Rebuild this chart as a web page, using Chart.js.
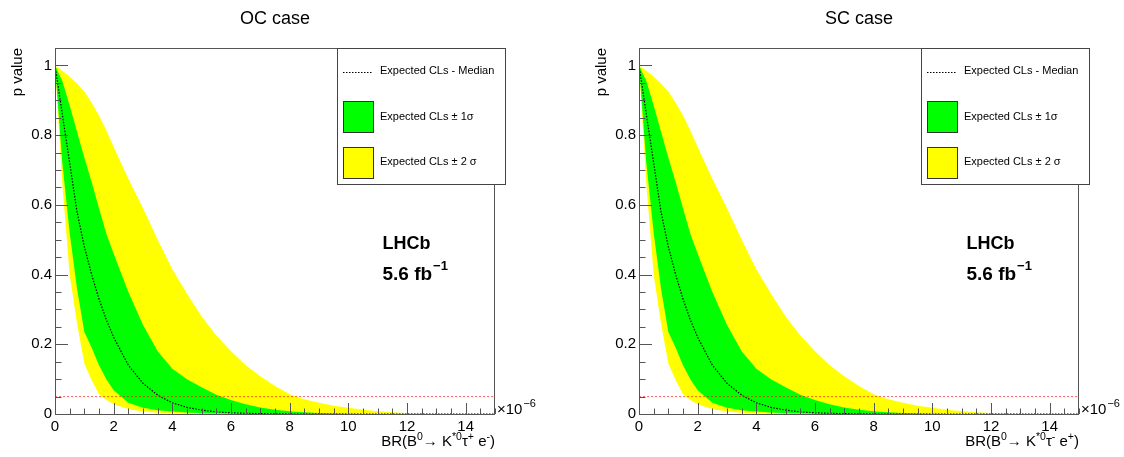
<!DOCTYPE html>
<html>
<head>
<meta charset="utf-8">
<script src="https://cdn.jsdelivr.net/npm/chart.js@4.4.1/dist/chart.umd.min.js"></script>
<style>
  html, body { margin: 0; padding: 0; background: #fff; overflow: hidden; width: 1124px; height: 457px; }
  canvas { position: absolute; top: 0; }
  #ocChart { left: 0; }
  #scChart { left: 584px; }
</style>
</head>
<body>
<canvas id="ocChart" width="562" height="457"></canvas>
<canvas id="scChart" width="562" height="457"></canvas>
<script>
// branching fraction scan points (x 10^-6)
const brValues    = [0, 0.25, 0.5, 0.75, 1, 1.25, 1.5, 1.75, 2, 2.5, 3, 3.5, 4, 4.5, 5, 5.5, 6, 6.5, 7, 7.5, 8, 8.5, 9, 9.5, 10, 10.5, 11, 11.5, 12, 12.5, 13, 13.5, 14, 14.5, 15];
// expected CLs bands
const yellowUpper = [1, 0.985, 0.968, 0.948, 0.925, 0.893, 0.856, 0.813, 0.766, 0.675, 0.59, 0.50, 0.415, 0.345, 0.28, 0.225, 0.18, 0.14, 0.108, 0.08, 0.057, 0.042, 0.032, 0.024, 0.018, 0.012, 0.008, 0.005, 0.003, 0.0015, 0.0007, 0.0003, 0.0001, 0, 0];
const greenUpper  = [1, 0.955, 0.885, 0.81, 0.735, 0.665, 0.59, 0.517, 0.46, 0.35, 0.255, 0.18, 0.13, 0.1, 0.077, 0.055, 0.04, 0.028, 0.019, 0.012, 0.008, 0.005, 0.003, 0.0015, 0.0007, 0, 0, 0, 0, 0, 0, 0, 0, 0, 0];
const medianCLs   = [1, 0.86, 0.72, 0.58, 0.48, 0.40, 0.33, 0.27, 0.22, 0.14, 0.088, 0.054, 0.032, 0.019, 0.011, 0.006, 0.0035, 0.002, 0.001, 0.0005, 0, 0, 0, 0, 0, 0, 0, 0, 0, 0, 0, 0, 0, 0, 0];
const greenLower  = [1, 0.72, 0.52, 0.36, 0.235, 0.19, 0.14, 0.1, 0.068, 0.032, 0.018, 0.011, 0.007, 0.004, 0.0025, 0.0015, 0.0008, 0.0003, 0, 0, 0, 0, 0, 0, 0, 0, 0, 0, 0, 0, 0, 0, 0, 0, 0];
const yellowLower = [1, 0.66, 0.40, 0.26, 0.145, 0.097, 0.057, 0.04, 0.028, 0.014, 0.007, 0.0035, 0.0018, 0.0008, 0.0003, 0, 0, 0, 0, 0, 0, 0, 0, 0, 0, 0, 0, 0, 0, 0, 0, 0, 0, 0, 0];
// 95% CL reference line
const limitX = [0, 15];
const limitY = [0.05, 0.05];

const xTickValues = [0, 2, 4, 6, 8, 10, 12, 14];
const yTickValues = [0, 0.2, 0.4, 0.6, 0.8, 1];
const yTickLabels = ["0", "0.2", "0.4", "0.6", "0.8", "1"];
const legendLabels = ["Expected CLs - Median", "Expected CLs \u00b1 1\u03c3", "Expected CLs \u00b1 2 \u03c3"];

const FONT = '"Liberation Sans", Arial, Helvetica, sans-serif';
Chart.defaults.font.family = FONT;

function points(xs, ys) {
    return xs.map((x, i) => ({ x: x, y: ys[i] }));
}

// draw a string made of normal / superscript pieces, right aligned at xr
function drawScripted(ctx, parts, xr, y, size) {
    const small = size * 0.7;
    let total = 0;
    parts.forEach(p => {
        ctx.font = (p[1] ? small : size) + "px " + FONT;
        total += ctx.measureText(p[0]).width;
    });
    let x = xr - total;
    parts.forEach(p => {
        ctx.font = (p[1] ? small : size) + "px " + FONT;
        ctx.fillText(p[0], x, p[1] ? y - size * 0.42 : y);
        x += ctx.measureText(p[0]).width;
    });
}

// ROOT-like frame, inward ticks, legend box and annotations
const rootStyle = {
    id: "rootStyle",
    afterDraw(chart, args, opts) {
        const ctx = chart.ctx;
        const a = chart.chartArea;
        const xs = chart.scales.x, ys = chart.scales.y;
        ctx.save();

        // frame
        ctx.strokeStyle = "#555";
        ctx.lineWidth = 1;
        ctx.strokeRect(a.left + 0.5, a.top + 0.5, a.right - a.left - 1, a.bottom - a.top);

        // ticks (major + minor)
        ctx.beginPath();
        for (let i = 0; i <= 30; i++) {
            const px = Math.round(xs.getPixelForValue(i * 0.5)) + 0.5;
            const len = (i % 4 === 0) ? 11 : 5.5;
            ctx.moveTo(px, a.bottom);
            ctx.lineTo(px, a.bottom - len);
        }
        for (let i = 0; i <= 20; i++) {
            const py = Math.round(ys.getPixelForValue(i * 0.05)) + 0.5;
            const len = (i % 4 === 0) ? 13 : 6.5;
            ctx.moveTo(a.left, py);
            ctx.lineTo(a.left + len, py);
        }
        ctx.stroke();

        ctx.fillStyle = "#000";
        ctx.textBaseline = "alphabetic";

        // title
        ctx.font = "18px " + FONT;
        ctx.textAlign = "center";
        ctx.fillText(opts.title, (a.left + a.right) / 2, 24);

        // y axis title
        ctx.save();
        ctx.translate(22, a.top);
        ctx.rotate(-Math.PI / 2);
        ctx.textAlign = "right";
        ctx.font = "15px " + FONT;
        ctx.fillText("p value", 0, 0);
        ctx.restore();

        // x axis title
        ctx.textAlign = "left";
        drawScripted(ctx, [["BR(B", 0], ["0", 1], ["\u2192 K", 0], ["*0", 1], ["\u03c4", 0], [opts.tauSign, 1], [" e", 0], [opts.eSign, 1], [")", 0]], a.right, 446, 15);

        // exponent
        ctx.font = "15px " + FONT;
        ctx.fillText("\u00d710", a.right + 2, a.bottom);
        const w = ctx.measureText("\u00d710").width;
        ctx.font = "11px " + FONT;
        ctx.fillText("\u22126", a.right + 3 + w, a.bottom - 7);

        // legend box
        const bx = 337.5, by = 48.5, bw = 168, bh = 136;
        ctx.fillStyle = "#fff";
        ctx.fillRect(bx, by, bw, bh);
        ctx.strokeStyle = "#444";
        ctx.strokeRect(bx, by, bw, bh);

        ctx.strokeStyle = "#000";
        ctx.setLineDash([1.5, 1.5]);
        ctx.beginPath();
        ctx.moveTo(343, 72.5);
        ctx.lineTo(373, 72.5);
        ctx.stroke();
        ctx.setLineDash([]);

        ctx.strokeStyle = "#333";
        ctx.fillStyle = "#00ff00";
        ctx.fillRect(343.5, 101.5, 30, 31);
        ctx.strokeRect(343.5, 101.5, 30, 31);
        ctx.fillStyle = "#ffff00";
        ctx.fillRect(343.5, 147.5, 30, 31);
        ctx.strokeRect(343.5, 147.5, 30, 31);

        ctx.fillStyle = "#000";
        ctx.font = "11px " + FONT;
        ctx.textBaseline = "middle";
        ctx.fillText(legendLabels[0], 380, 71);
        ctx.fillText(legendLabels[1], 380, 117);
        ctx.fillText(legendLabels[2], 380, 162);

        // experiment label
        ctx.textBaseline = "alphabetic";
        ctx.font = "bold 18px " + FONT;
        ctx.fillText("LHCb", 382.5, 248.5);
        ctx.font = "bold 19px " + FONT;
        ctx.fillText("5.6 fb", 382.5, 280);
        const fw = ctx.measureText("5.6 fb").width;
        ctx.font = "bold 13px " + FONT;
        ctx.fillText("\u22121", 383.5 + fw, 270);

        ctx.restore();
    }
};

function makeChart(canvasId, title, tauSign, eSign) {
    return new Chart(document.getElementById(canvasId).getContext("2d"), {
        type: "line",
        data: {
            datasets: [
                { data: points(brValues, yellowUpper), fill: "+1", backgroundColor: "#ffff00", borderWidth: 0, order: 5 },
                { data: points(brValues, yellowLower), fill: false, borderWidth: 0, order: 5 },
                { data: points(brValues, greenUpper), fill: "+1", backgroundColor: "#00ff00", borderWidth: 0, order: 3 },
                { data: points(brValues, greenLower), fill: false, borderWidth: 0, order: 3 },
                { data: points(brValues, medianCLs), fill: false, borderColor: "#000", borderWidth: 1.2, borderDash: [1.5, 1.5], order: 1 },
                { data: points(limitX, limitY), fill: false, borderColor: "rgba(255,0,0,0.6)", borderWidth: 1, borderDash: [2, 2], order: 0 }
            ]
        },
        options: {
            responsive: false,
            animation: false,
            layout: { padding: { top: 48, right: 67, left: 0, bottom: 0 } },
            elements: { point: { radius: 0 }, line: { tension: 0 } },
            plugins: {
                legend: { display: false },
                tooltip: { enabled: false },
                rootStyle: { title: title, tauSign: tauSign, eSign: eSign }
            },
            scales: {
                x: {
                    type: "linear",
                    min: 0,
                    max: 15,
                    grid: { display: false, drawTicks: false },
                    border: { display: false },
                    afterBuildTicks: s => { s.ticks = xTickValues.map(v => ({ value: v })); },
                    afterFit: s => { s.height = 43; },
                    ticks: { color: "#000", font: { size: 15 }, padding: 4, maxRotation: 0 }
                },
                y: {
                    min: 0,
                    max: 1.05,
                    grid: { display: false, drawTicks: false },
                    border: { display: false },
                    afterBuildTicks: s => { s.ticks = yTickValues.map(v => ({ value: v })); },
                    afterFit: s => { s.width = 55; },
                    ticks: {
                        color: "#000",
                        font: { size: 15 },
                        padding: 3,
                        callback: (v, i) => yTickLabels[i]
                    }
                }
            }
        },
        plugins: [rootStyle]
    });
}

makeChart("ocChart", "OC case", "+", "-");
makeChart("scChart", "SC case", "-", "+");
</script>
</body>
</html>
